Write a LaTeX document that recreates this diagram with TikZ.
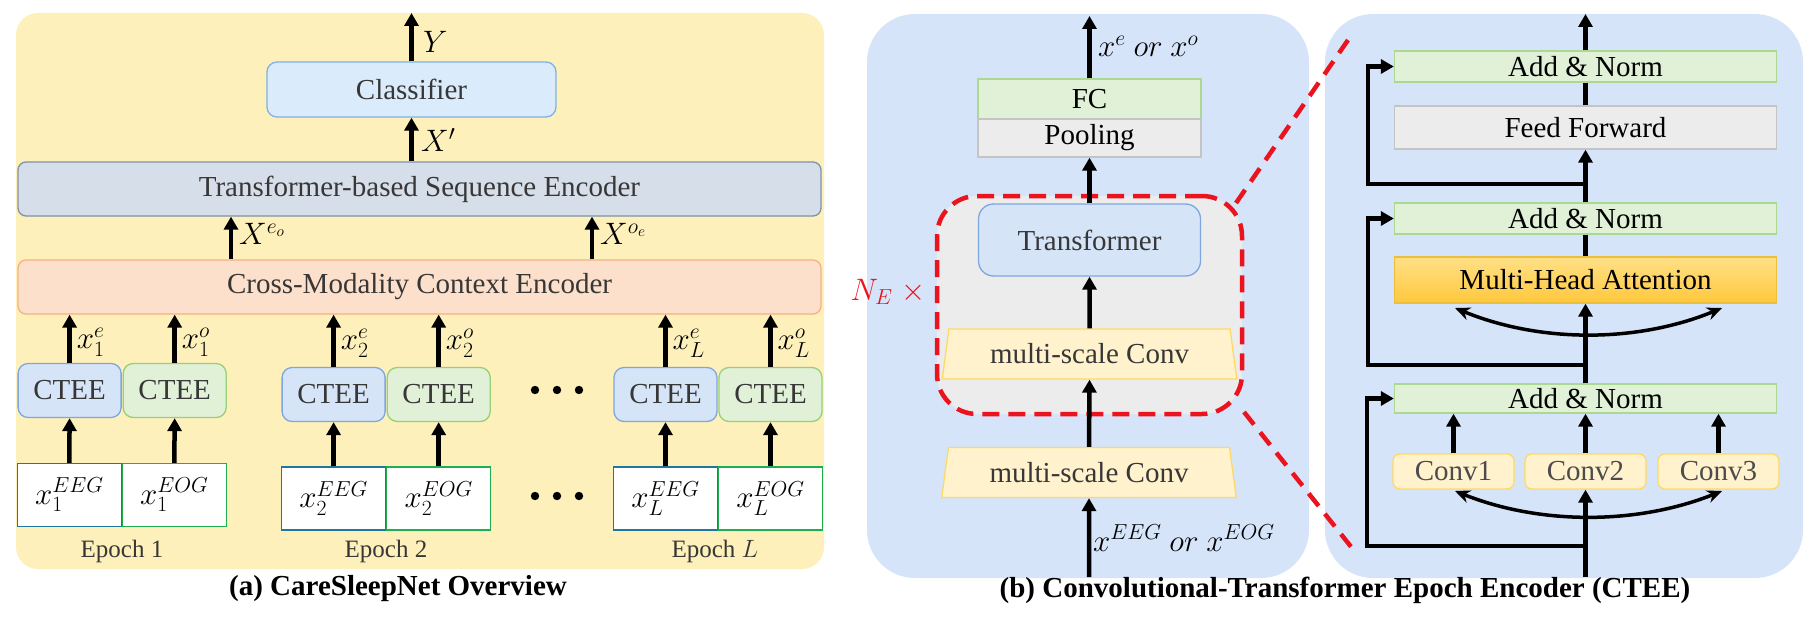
\RequirePackage{fix-cm}
\documentclass[tikz,border=0pt]{standalone}
\usepackage{fontspec}
\setmainfont{Liberation Serif}
\usetikzlibrary{arrows.meta,shapes.geometric,calc}
\definecolor{panA}{RGB}{253,240,186}
\definecolor{panB}{RGB}{214,228,249}
\definecolor{clsF}{RGB}{218,236,252}
\definecolor{clsD}{RGB}{126,178,230}
\definecolor{tseF}{RGB}{214,222,233}
\definecolor{tseD}{RGB}{126,146,170}
\definecolor{cmF}{RGB}{252,224,203}
\definecolor{cmD}{RGB}{244,177,131}
\definecolor{blueF}{RGB}{214,228,248}
\definecolor{blueD}{RGB}{126,166,224}
\definecolor{greenF}{RGB}{224,241,215}
\definecolor{greenD}{RGB}{151,208,119}
\definecolor{eegD}{RGB}{31,119,160}
\definecolor{eogD}{RGB}{30,176,80}
\definecolor{grayF}{RGB}{236,236,236}
\definecolor{grayD}{RGB}{196,196,196}
\definecolor{yelF}{RGB}{255,242,204}
\definecolor{yelD}{RGB}{255,217,102}
\definecolor{mhaT}{RGB}{255,224,135}
\definecolor{mhaB}{RGB}{255,200,60}
\definecolor{mhaD}{RGB}{235,190,60}
\definecolor{redD}{RGB}{235,20,30}
\definecolor{txt}{RGB}{55,55,55}
\newcommand{\fsz}{\fontsize{29}{34}\selectfont}
\newcommand{\fep}{\fontsize{25}{30}\selectfont}
\newcommand{\fml}{\fontsize{31}{36}\selectfont}
\begin{document}
\begin{tikzpicture}[x=1pt,y=-1pt,
  box/.style={draw, line width=1.3pt, inner sep=0pt, align=center, font=\fsz, text=txt},
  arr/.style={line width=4.5pt, -{Triangle[length=13pt,width=14pt]}},
  ln/.style={line width=4.5pt},
  carr/.style={line width=3.5pt, {Stealth[length=15pt,width=13pt]}-{Stealth[length=15pt,width=13pt]}},
  lab/.style={anchor=west, font=\fml, inner sep=0pt},
  ctee/.style={box, rounded corners=10pt, minimum width=103pt, minimum height=54pt},
  cteeE/.style={ctee, fill=blueF, draw=blueD},
  cteeO/.style={ctee, fill=greenF, draw=greenD},
  inp/.style={draw, line width=1.3pt, fill=white, minimum width=104pt, minimum height=63pt, font=\fml, inner sep=0pt},
  inpE/.style={inp, draw=eegD},
  inpO/.style={inp, draw=eogD},
  epl/.style={font=\fep, text=txt, inner sep=0pt},
  captxt/.style={font=\fsz\bfseries, inner sep=0pt},
  addn/.style={box, fill=greenF, draw=greenD!80, minimum width=382pt, minimum height=31pt, text=black},
  msc/.style={trapezium, trapezium stretches=true, trapezium left angle=77, trapezium right angle=77,
     minimum width=295pt, minimum height=50pt, fill=yelF, draw=yelD, line width=1.3pt, font=\fsz, text=txt, inner sep=0pt},
  convb/.style={box, rounded corners=7pt, fill=yelF, draw=yelD, minimum width=121pt, minimum height=35pt, text=black!70},
]
\useasboundingbox (0,0) rectangle (1815,618);

% ---------------- panel (a) ----------------
\fill[panA, rounded corners=22pt] (16,13) rectangle (824,569);

\node[box, fill=clsF, draw=clsD, rounded corners=10pt, minimum width=289pt, minimum height=55pt] (cls) at (411.5,89.5) {Classifier};
\node[box, fill=tseF, draw=tseD, rounded corners=8pt, minimum width=803pt, minimum height=54pt] (tse) at (419.5,189) {Transformer-based Sequence Encoder};
\node[box, fill=cmF, draw=cmD, rounded corners=8pt, minimum width=803pt, minimum height=54pt] (cm) at (419.5,287) {Cross-Modality Context Encoder};

\node[cteeE] (c1e) at (69.6,390.5) {CTEE};
\node[cteeO] (c1o) at (174.7,390.5) {CTEE};
\node[cteeE] (c2e) at (333.6,394.5) {CTEE};
\node[cteeO] (c2o) at (438.7,394.5) {CTEE};
\node[cteeE] (cLe) at (665.5,394.5) {CTEE};
\node[cteeO] (cLo) at (770.5,394.5) {CTEE};

\node[inpE] (i1e) at (69.3,495) {$x_1^{EEG}$};
\node[inpO] (i1o) at (174.3,495) {$x_1^{EOG}$};
\node[inpE] (i2e) at (333.6,498.5) {$x_2^{EEG}$};
\node[inpO] (i2o) at (438.7,498.5) {$x_2^{EOG}$};
\node[inpE] (iLe) at (665.5,498.5) {$x_L^{EEG}$};
\node[inpO] (iLo) at (770.5,498.5) {$x_L^{EOG}$};

\foreach \xx in {535,557,579}{
  \fill (\xx,390) circle (4.2pt);
  \fill (\xx,496) circle (4.2pt);
}

\node[epl] (ep1) at (122,551) {Epoch 1};
\node[epl] (ep2) at (386,551) {Epoch 2};
\node[epl] (epL) at (715,551) {Epoch $L$};

\coordinate (outA) at (411.5,13);
\coordinate (xa) at (231,0);
\coordinate (xb) at (592,0);

\draw[arr] (cls.north) -- (outA);
\node[lab] (lY) at (423,42) {$Y$};
\draw[arr] (cls.south |- tse.north) -- (cls.south);
\node[lab] (lX) at (421,140) {$X'$};
\draw[arr] (cm.north -| xa) -- (tse.south -| xa);
\node[lab] (lXeo) at (239,234) {$X^{e_o}$};
\draw[arr] (cm.north -| xb) -- (tse.south -| xb);
\node[lab] (lXoe) at (600,234) {$X^{o_e}$};

\foreach \n/\s/\y in {1/1/342,2/2/343,L/L/343}{
  \draw[arr] (c\n e.north) -- (c\n e.north |- cm.south);
  \draw[arr] (c\n o.north) -- (c\n o.north |- cm.south);
  \draw[arr] (i\n e.north) -- (c\n e.south);
  \draw[arr] (i\n o.north) -- (c\n o.south);
  \node[lab] at ([xshift=7pt]c\n e.north |- 0,\y) {$x_{\s}^{e}$};
  \node[lab] at ([xshift=7pt]c\n o.north |- 0,\y) {$x_{\s}^{o}$};
}

\node[captxt] (capA) at (398,589) {(a) CareSleepNet Overview};

% ---------------- panel (b) left ----------------
\fill[panB, rounded corners=48pt] (867,14) rectangle (1309,578);
\fill[panB, rounded corners=48pt] (1325,14) rectangle (1803,578);

\node[draw=redD, fill=grayF, line width=4.5pt, dash pattern=on 17pt off 9pt, rounded corners=40pt,
      minimum width=305pt, minimum height=218pt] (rep) at (1089.5,305) {};

\node[box, fill=greenF, draw=greenD!80, minimum width=223pt, minimum height=40pt, text=black] (fc) at (1089.5,99) {FC};
\node[box, fill=grayF, draw=grayD, minimum width=223pt, minimum height=38pt, text=black] (pool) at (1089.5,138) {Pooling};
\node[box, fill=blueF, draw=blueD, rounded corners=15pt, minimum width=222pt, minimum height=72pt] (trf) at (1089.5,240) {Transformer};
\node[msc] (ms1) at (1089.5,354) {multi-scale Conv};
\node[msc] (ms2) at (1089,472.5) {multi-scale Conv};

\coordinate (outB) at (1089.5,16);
\coordinate (inA) at (1089,577);
\draw[arr] (fc.north) -- (outB);
\node[lab] (lxo) at (1098,46) {$x^{e}\ or\ x^{o}$};
\draw[arr] (trf.north) -- (pool.south);
\draw[arr] (ms1.north) -- (trf.south);
\draw[arr] (ms2.north) -- (ms1.south);
\draw[arr] (inA) -- (ms2.south);
\node[lab] (lin) at (1093,538) {$x^{EEG}\ or\ x^{EOG}$};

\node[font=\fml, text=redD, inner sep=0pt] (ne) at (888,292) {$N_E\;\times$};

% ---------------- panel (b) right ----------------
\node[addn] (an1) at (1585.5,66.5) {Add \& Norm};
\node[box, fill=grayF, draw=grayD, minimum width=382pt, minimum height=43pt, text=black] (ff) at (1585.5,127.5) {Feed Forward};
\node[addn] (an2) at (1585.5,218.5) {Add \& Norm};
\node[box, top color=mhaT, bottom color=mhaB, draw=mhaD, minimum width=382pt, minimum height=46pt, text=black] (mha) at (1585.5,280) {Multi-Head Attention};
\node[addn, minimum height=29pt] (an3) at (1585.5,398.5) {Add \& Norm};
\node[convb] (cv1) at (1453.5,471.5) {Conv1};
\node[convb] (cv2) at (1585.5,471.5) {Conv2};
\node[convb] (cv3) at (1718.5,471.5) {Conv3};

\coordinate (outC) at (1585.5,14);
\coordinate (inB) at (1585.5,577);
\coordinate (r1) at (1585.5,184);
\coordinate (r2) at (1585.5,365);
\coordinate (r3) at (1585.5,546);
\coordinate (ca1) at (1455,308);
\coordinate (ca2) at (1722,308);
\coordinate (cb1) at (1455,491);
\coordinate (cb2) at (1722,491);

\draw[arr] (an1.north) -- (outC);
\draw[ln] (ff.north) -- (an1.south);
\draw[arr] (an2.north) -- (ff.south);
\draw[arr] (r1) -| ([xshift=-26pt]an1.west) -- (an1.west);
\draw[ln] (mha.north) -- (an2.south);
\draw[arr] (an3.north) -- (mha.south);
\draw[arr] (r2) -| ([xshift=-26pt]an2.west) -- (an2.west);
\draw[carr] (ca1) .. controls (1540,343) and (1637,343) .. (ca2);
\draw[arr] (cv1.north) -- (cv1.north |- an3.south);
\draw[arr] (cv2.north) -- (an3.south);
\draw[arr] (cv3.north) -- (cv3.north |- an3.south);
\draw[arr] (inB) -- (cv2.south);
\draw[carr] (cb1) .. controls (1540,525) and (1637,525) .. (cb2);
\draw[arr] (r3) -| ([xshift=-27pt]an3.west) -- (an3.west);

% red zoom lines
\coordinate (z1) at (1236,203);
\coordinate (z2) at (1348,40);
\coordinate (z3) at (1244,412);
\coordinate (z4) at (1352,548);
\draw[redD, line width=4.5pt, dash pattern=on 16pt off 10pt] (z1) -- (z2);
\draw[redD, line width=4.5pt, dash pattern=on 16pt off 10pt] (z3) -- (z4);

\node[captxt] (capB) at (1345,590) {(b) Convolutional-Transformer Epoch Encoder (CTEE)};
\end{tikzpicture}
\end{document}
